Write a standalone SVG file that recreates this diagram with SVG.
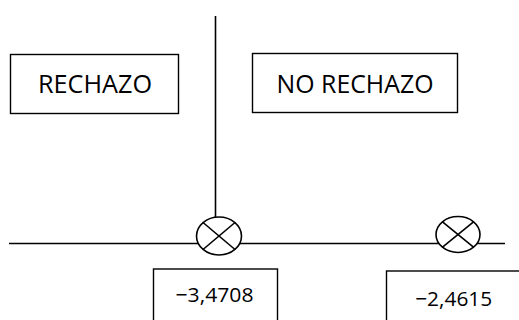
<svg xmlns="http://www.w3.org/2000/svg" width="519" height="320" viewBox="0 0 519 320">
  <style>
    .box { fill: #fff; stroke: #000; stroke-width: 1.4; }
    .line { stroke: #000; stroke-width: 1.6; fill: none; }
    .mark { fill: #fff; stroke: #000; stroke-width: 1.6; }
    .label { font-family: "Open Sans", "Noto Sans", "Liberation Sans", sans-serif; font-size: 26px; fill: #000; text-anchor: middle; }
    .value { font-family: "Open Sans", "Noto Sans", "Liberation Sans", sans-serif; font-size: 20px; fill: #000; text-anchor: middle; }
  </style>

  <!-- axis and divider -->
  <g id="connectors">
    <line class="line" x1="9" y1="243.5" x2="505" y2="243.5"/>
    <line class="line" x1="215.5" y1="16" x2="215.5" y2="218"/>
  </g>

  <!-- region labels -->
  <g id="rechazo">
    <rect class="box" x="10.5" y="54.5" width="168" height="59"/>
    <text class="label" x="95" y="93.3" textLength="114" lengthAdjust="spacingAndGlyphs">RECHAZO</text>
  </g>
  <g id="no-rechazo">
    <rect class="box" x="252.5" y="53.5" width="205" height="59"/>
    <text class="label" x="355" y="93.3" textLength="157" lengthAdjust="spacingAndGlyphs">NO RECHAZO</text>
  </g>

  <!-- critical value marker -->
  <g id="critical-point">
    <ellipse class="mark" cx="219" cy="236" rx="22.5" ry="19"/>
    <line class="line" x1="203" y1="222.5" x2="235" y2="249.5"/>
    <line class="line" x1="235" y1="222.5" x2="203" y2="249.5"/>
  </g>

  <!-- test statistic marker -->
  <g id="statistic-point">
    <ellipse class="mark" cx="458" cy="234.5" rx="22" ry="18"/>
    <line class="line" x1="442.5" y1="221.8" x2="473.5" y2="247.2"/>
    <line class="line" x1="473.5" y1="221.8" x2="442.5" y2="247.2"/>
  </g>

  <!-- value boxes -->
  <g id="critical-value">
    <rect class="box" x="153.5" y="269" width="124" height="60"/>
    <text class="value" x="214.5" y="302" textLength="78" lengthAdjust="spacingAndGlyphs">−3,4708</text>
  </g>
  <g id="statistic-value">
    <rect class="box" x="386.5" y="271" width="150" height="60"/>
    <text class="value" x="453.7" y="306" textLength="77" lengthAdjust="spacingAndGlyphs">−2,4615</text>
  </g>
</svg>
